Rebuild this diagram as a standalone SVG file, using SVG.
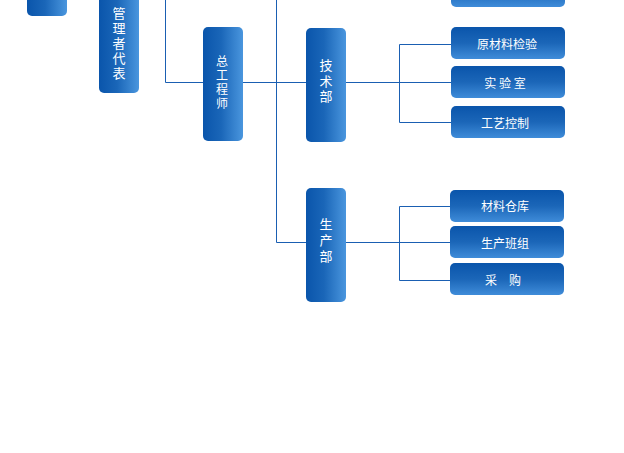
<svg xmlns="http://www.w3.org/2000/svg" width="624" height="453" viewBox="0 0 624 453">
<defs>
<linearGradient id="gh" x1="0" y1="0" x2="1" y2="0">
<stop offset="0" stop-color="#0a55ab"/>
<stop offset="0.45" stop-color="#1a66b8"/>
<stop offset="1" stop-color="#4a96de"/>
</linearGradient>
<linearGradient id="gv" x1="0" y1="0" x2="0" y2="1">
<stop offset="0" stop-color="#0a55ab"/>
<stop offset="0.5" stop-color="#1b66b8"/>
<stop offset="1" stop-color="#3f8cd9"/>
</linearGradient>
<style>
.v{fill:url(#gh)}
.h{fill:url(#gv)}
.t{fill:#ffffff;font-family:"Noto Sans CJK SC","Noto Sans CJK TC",sans-serif;font-size:13px;text-anchor:middle;writing-mode:vertical-rl;text-orientation:upright;letter-spacing:2px}
.s{fill:#ffffff;font-family:"Noto Sans CJK SC","Noto Sans CJK TC",sans-serif;font-size:12px;text-anchor:middle;dominant-baseline:central}
.c{fill:none;stroke:#1a5fb2;stroke-width:1}
</style>
</defs>
<rect width="624" height="453" fill="#ffffff"/>
<g id="connectors">
<path class="c" d="M165.5,0 V82.5 H203"/>
<path class="c" d="M243,82.5 H306"/>
<path class="c" d="M276.5,0 V242.5 H306"/>
<path class="c" d="M346,82.5 H451"/>
<path class="c" d="M451,44.5 H399.5 V122.5 H451"/>
<path class="c" d="M346,242.5 H450"/>
<path class="c" d="M450,206.5 H399.5 V280.5 H450"/>
</g>
<g id="node-left">
<rect class="v" x="27" y="-30" width="40" height="46" rx="5"/>
</g>
<g id="node-guanli">
<rect class="v" x="99" y="-40" width="40" height="133" rx="5"/>
<text class="t" x="119" y="44">管理者代表</text>
</g>
<g id="node-zonggong">
<rect class="v" x="203" y="27" width="40" height="114" rx="5"/>
<text class="t" x="222" y="83" style="font-size:12px">总工程师</text>
</g>
<g id="node-jishu">
<rect class="v" x="306" y="28" width="40" height="114" rx="5"/>
<text class="t" x="326" y="82" style="letter-spacing:2.5px">技术部</text>
</g>
<g id="node-shengchan">
<rect class="v" x="306" y="188" width="40" height="114" rx="5"/>
<text class="t" x="326" y="242" style="letter-spacing:3px">生产部</text>
</g>
<g id="node-top-right">
<rect class="h" x="451" y="-25" width="114" height="32" rx="5"/>
</g>
<g id="node-yuancailiao">
<rect class="h" x="451" y="27" width="114" height="32" rx="5"/>
<text class="s" x="507" y="43">原材料检验</text>
</g>
<g id="node-shiyanshi">
<rect class="h" x="451" y="66" width="114" height="32" rx="5"/>
<text class="s" x="505" y="82">实 验 室</text>
</g>
<g id="node-gongyi">
<rect class="h" x="451" y="106" width="114" height="32" rx="5"/>
<text class="s" x="505" y="122">工艺控制</text>
</g>
<g id="node-cangku">
<rect class="h" x="450" y="190" width="114" height="32" rx="5"/>
<text class="s" x="505" y="205">材料仓库</text>
</g>
<g id="node-banzu">
<rect class="h" x="450" y="226" width="114" height="32" rx="5"/>
<text class="s" x="505" y="242">生产班组</text>
</g>
<g id="node-caigou">
<rect class="h" x="450" y="263" width="114" height="32" rx="5"/>
<text class="s" x="503" y="279">采　购</text>
</g>
</svg>
